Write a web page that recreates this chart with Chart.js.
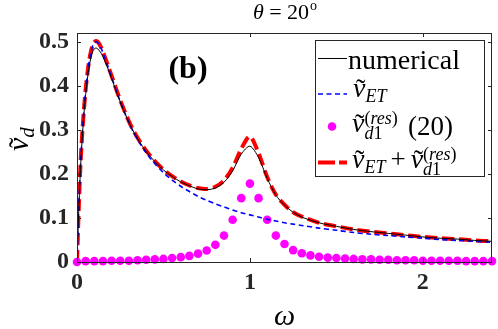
<!DOCTYPE html>
<html>
<head>
<meta charset="utf-8">
<script src="https://cdn.jsdelivr.net/npm/chart.js@4"></script>
<style>
  body { margin: 0; background: #fff; }
</style>
</head>
<body>
<canvas id="chart" width="498" height="329"></canvas>
<script>
// frequency grid for the continuous curves
const omega = [0, 0.01, 0.02, 0.03, 0.04, 0.05, 0.06, 0.07, 0.08, 0.09, 0.1, 0.11, 0.12, 0.14, 0.16, 0.18, 0.2,
  0.24, 0.28, 0.32, 0.36, 0.4, 0.45, 0.5, 0.55, 0.6, 0.65, 0.7, 0.75, 0.8, 0.85, 0.9, 0.95, 1.0,
  1.05, 1.1, 1.15, 1.2, 1.25, 1.3, 1.4, 1.5, 1.6, 1.7, 1.8, 1.9, 2.0, 2.1, 2.2, 2.3, 2.4];

const vNumerical = [0, 0.115, 0.21, 0.28, 0.335, 0.38, 0.415, 0.443, 0.463, 0.477, 0.484, 0.486, 0.484, 0.474, 0.457, 0.438, 0.417,
  0.374, 0.335, 0.301, 0.274, 0.251, 0.228, 0.209, 0.194, 0.182, 0.173, 0.166, 0.164, 0.168, 0.181, 0.207, 0.245, 0.263,
  0.237, 0.19, 0.152, 0.129, 0.113, 0.102, 0.089, 0.081, 0.074, 0.069, 0.065, 0.061, 0.057, 0.054, 0.052, 0.049, 0.047];

const vET = [0, 0.12, 0.22, 0.29, 0.345, 0.39, 0.425, 0.455, 0.475, 0.49, 0.497, 0.5, 0.498, 0.485, 0.465, 0.443, 0.42,
  0.375, 0.335, 0.3, 0.272, 0.248, 0.223, 0.203, 0.186, 0.172, 0.16, 0.149, 0.14, 0.132, 0.125, 0.118, 0.112, 0.107,
  0.102, 0.097, 0.093, 0.089, 0.086, 0.083, 0.077, 0.072, 0.067, 0.063, 0.06, 0.057, 0.054, 0.051, 0.049, 0.047, 0.045];

const vSum = [0, 0.12, 0.22, 0.29, 0.345, 0.392, 0.427, 0.457, 0.477, 0.492, 0.499, 0.502, 0.5, 0.487, 0.467, 0.445, 0.423,
  0.378, 0.338, 0.303, 0.276, 0.253, 0.229, 0.21, 0.195, 0.183, 0.174, 0.168, 0.166, 0.171, 0.185, 0.214, 0.257, 0.285,
  0.247, 0.193, 0.153, 0.13, 0.113, 0.103, 0.089, 0.081, 0.074, 0.069, 0.065, 0.061, 0.057, 0.054, 0.052, 0.049, 0.047];

// resonant part, sampled every 0.05
const omegaDots = [0, 0.05, 0.1, 0.15, 0.2, 0.25, 0.3, 0.35, 0.4, 0.45, 0.5, 0.55, 0.6, 0.65, 0.7, 0.75, 0.8, 0.85,
  0.9, 0.95, 1.0, 1.05, 1.1, 1.15, 1.2, 1.25, 1.3, 1.35, 1.4, 1.45, 1.5, 1.55, 1.6, 1.65, 1.7, 1.75, 1.8, 1.85,
  1.9, 1.95, 2.0, 2.05, 2.1, 2.15, 2.2, 2.25, 2.3, 2.35, 2.4];
const vRes = [0, 0.002, 0.002, 0.002, 0.003, 0.003, 0.003, 0.004, 0.005, 0.006, 0.007, 0.009, 0.011, 0.014, 0.019, 0.026, 0.039, 0.06,
  0.096, 0.145, 0.178, 0.145, 0.096, 0.06, 0.041, 0.027, 0.02, 0.015, 0.012, 0.01, 0.009, 0.008, 0.007, 0.006, 0.006, 0.005, 0.005, 0.004,
  0.004, 0.004, 0.003, 0.003, 0.003, 0.003, 0.003, 0.002, 0.002, 0.002, 0.002];

const xTicks = [0, 1, 2];
const yTicks = [0, 0.1, 0.2, 0.3, 0.4, 0.5];

const SERIF = 'Liberation Serif';
const AXIS = '#262626';

function pts(xs, ys) {
  return xs.map((x, i) => ({ x: x, y: ys[i] }));
}

// italic v with a tilde over it, returns advance width
function tildeV(ctx, x, y, size) {
  ctx.font = 'italic ' + size + 'px ' + SERIF;
  ctx.textAlign = 'left';
  ctx.fillText('v', x, y);
  const w = ctx.measureText('v').width;
  ctx.font = size + 'px ' + SERIF;
  ctx.textAlign = 'center';
  ctx.fillText('\u02DC', x + w * 0.62, y + size * 0.02);
  ctx.textAlign = 'left';
  return w;
}

function txt(ctx, s, x, y, font) {
  ctx.font = font;
  ctx.textAlign = 'left';
  ctx.fillText(s, x, y);
  return ctx.measureText(s).width;
}

// superscript (res) and subscript d1 starting at x
function resScripts(ctx, x, yBase, size) {
  let sx = x;
  const up = yBase - size * 0.45;
  sx += txt(ctx, '(', sx, up, size + 'px ' + SERIF);
  sx += txt(ctx, 'res', sx, up, 'italic ' + size + 'px ' + SERIF);
  sx += txt(ctx, ')', sx, up, size + 'px ' + SERIF);
  let bx = x;
  const down = yBase + size * 0.4;
  bx += txt(ctx, 'd', bx, down, 'italic ' + size + 'px ' + SERIF);
  bx += txt(ctx, '1', bx, down, size + 'px ' + SERIF);
  return Math.max(sx, bx) - x;
}

const decorations = {
  id: 'decorations',
  afterDraw(chart) {
    const ctx = chart.ctx;
    const a = chart.chartArea;
    const xs = chart.scales.x, ys = chart.scales.y;
    ctx.save();

    // box and inward ticks
    ctx.strokeStyle = AXIS;
    ctx.lineWidth = 1;
    ctx.strokeRect(a.left + 0.5, a.top + 0.5, a.right - a.left - 1, a.bottom - a.top);
    ctx.beginPath();
    xTicks.forEach(v => {
      const px = Math.round(xs.getPixelForValue(v)) + 0.5;
      ctx.moveTo(px, a.bottom); ctx.lineTo(px, a.bottom - 4);
      ctx.moveTo(px, a.top); ctx.lineTo(px, a.top + 4);
    });
    yTicks.forEach(v => {
      const py = Math.round(ys.getPixelForValue(v)) + 0.5;
      ctx.moveTo(a.left, py); ctx.lineTo(a.left + 4, py);
      ctx.moveTo(a.right, py); ctx.lineTo(a.right - 4, py);
    });
    ctx.stroke();

    ctx.fillStyle = '#000';
    ctx.textBaseline = 'alphabetic';

    // title: theta = 20^o
    ctx.font = 'italic 22px ' + SERIF;
    const wTh = ctx.measureText('\u03B8').width;
    ctx.font = '22px ' + SERIF;
    const wEq = ctx.measureText(' = 20').width;
    ctx.font = '14px ' + SERIF;
    const wO = ctx.measureText('o').width;
    let tx = (a.left + a.right) / 2 - (wTh + wEq + wO) / 2;
    tx += txt(ctx, '\u03B8', tx, 19, 'italic 22px ' + SERIF);
    tx += txt(ctx, ' = 20', tx, 19, '22px ' + SERIF);
    txt(ctx, 'o', tx + 1, 10, '14px ' + SERIF);

    // panel label
    ctx.font = 'bold 32px ' + SERIF;
    ctx.textAlign = 'center';
    ctx.fillText('(b)', 188, 78);

    // x axis title
    ctx.font = 'italic 30px ' + SERIF;
    ctx.fillText('\u03C9', (a.left + a.right) / 2, 325);

    // y axis title, rotated
    ctx.save();
    ctx.translate(28, 134);
    ctx.rotate(-Math.PI / 2);
    const wv = tildeV(ctx, -17, 0, 30);
    txt(ctx, 'd', -17 + wv, 6, 'italic 21px ' + SERIF);
    ctx.restore();

    // legend
    const L = { left: 315, top: 40.5, right: 484, bottom: 176.5 };
    ctx.fillStyle = '#fff';
    ctx.fillRect(L.left, L.top, L.right - L.left, L.bottom - L.top);
    ctx.strokeStyle = AXIS;
    ctx.lineWidth = 1;
    ctx.strokeRect(L.left + 0.5, L.top, L.right - L.left, L.bottom - L.top);

    const sx0 = 318, sx1 = 347;
    ctx.strokeStyle = '#000';
    ctx.lineWidth = 1;
    ctx.beginPath(); ctx.moveTo(sx0, 58.5); ctx.lineTo(sx1, 58.5); ctx.stroke();
    ctx.strokeStyle = '#0000ff';
    ctx.lineWidth = 1.6;
    ctx.setLineDash([5, 3.5]);
    ctx.beginPath(); ctx.moveTo(sx0, 94); ctx.lineTo(sx1, 94); ctx.stroke();
    ctx.strokeStyle = '#ff0000';
    ctx.lineWidth = 4;
    ctx.setLineDash([17, 4]);
    ctx.beginPath(); ctx.moveTo(sx0, 162.5); ctx.lineTo(sx1, 162.5); ctx.stroke();
    ctx.setLineDash([]);
    ctx.fillStyle = '#ff00ff';
    ctx.beginPath(); ctx.arc(332, 126.5, 4.3, 0, Math.PI * 2); ctx.fill();

    ctx.fillStyle = '#000';
    txt(ctx, 'numerical', 348, 69, '28px ' + SERIF);

    let ex = 353;
    ex += tildeV(ctx, ex, 97, 28);
    txt(ctx, 'ET', ex, 102, 'italic 18px ' + SERIF);

    ex = 352;
    ex += tildeV(ctx, ex, 132, 28);
    resScripts(ctx, ex, 132, 18);
    txt(ctx, '(20)', 408, 135, '27px ' + SERIF);

    ex = 352;
    ex += tildeV(ctx, ex, 168, 28);
    ex += txt(ctx, 'ET', ex, 173, 'italic 18px ' + SERIF);
    ex += 5;
    ex += txt(ctx, '+', ex, 168, '27px ' + SERIF);
    ex += 5;
    ex += tildeV(ctx, ex, 168, 28);
    resScripts(ctx, ex, 168, 18);

    ctx.restore();
  }
};

new Chart(document.getElementById('chart').getContext('2d'), {
  type: 'line',
  data: {
    datasets: [
      {
        label: 'numerical',
        data: pts(omega, vNumerical),
        borderColor: '#000000',
        borderWidth: 1,
        pointRadius: 0,
        tension: 0.3,
        fill: false
      },
      {
        label: 'vET',
        data: pts(omega, vET),
        borderColor: '#0000ff',
        borderWidth: 1.6,
        borderDash: [5, 3.5],
        pointRadius: 0,
        tension: 0.3,
        fill: false
      },
      {
        label: 'vd1 res (20)',
        data: pts(omegaDots, vRes),
        showLine: false,
        pointRadius: 4.3,
        pointBackgroundColor: '#ff00ff',
        pointBorderWidth: 0,
        borderColor: '#ff00ff',
        clip: false
      },
      {
        label: 'vET + vd1 res',
        data: pts(omega, vSum),
        borderColor: '#ff0000',
        borderWidth: 4,
        borderDash: [12, 5],
        pointRadius: 0,
        tension: 0.3,
        fill: false
      }
    ]
  },
  options: {
    responsive: false,
    devicePixelRatio: 1,
    animation: false,
    layout: { padding: { top: 33, right: 6, left: 0, bottom: 0 } },
    plugins: {
      legend: { display: false },
      title: { display: false },
      tooltip: { enabled: false }
    },
    scales: {
      x: {
        type: 'linear',
        min: 0,
        max: 2.4,
        grid: { display: false, drawTicks: false },
        border: { display: false },
        afterBuildTicks: s => { s.ticks = xTicks.map(v => ({ value: v })); },
        afterFit: s => { s.height = 67; },
        ticks: {
          padding: 6,
          color: AXIS,
          maxRotation: 0,
          font: { family: SERIF, size: 24, weight: 'bold' }
        }
      },
      y: {
        min: 0,
        max: 0.52,
        grid: { display: false, drawTicks: false },
        border: { display: false },
        afterBuildTicks: s => { s.ticks = yTicks.map(v => ({ value: v })); },
        afterFit: s => { s.width = 77; },
        ticks: {
          padding: 8,
          color: AXIS,
          font: { family: SERIF, size: 24, weight: 'bold' }
        }
      }
    }
  },
  plugins: [decorations]
});
</script>
</body>
</html>
